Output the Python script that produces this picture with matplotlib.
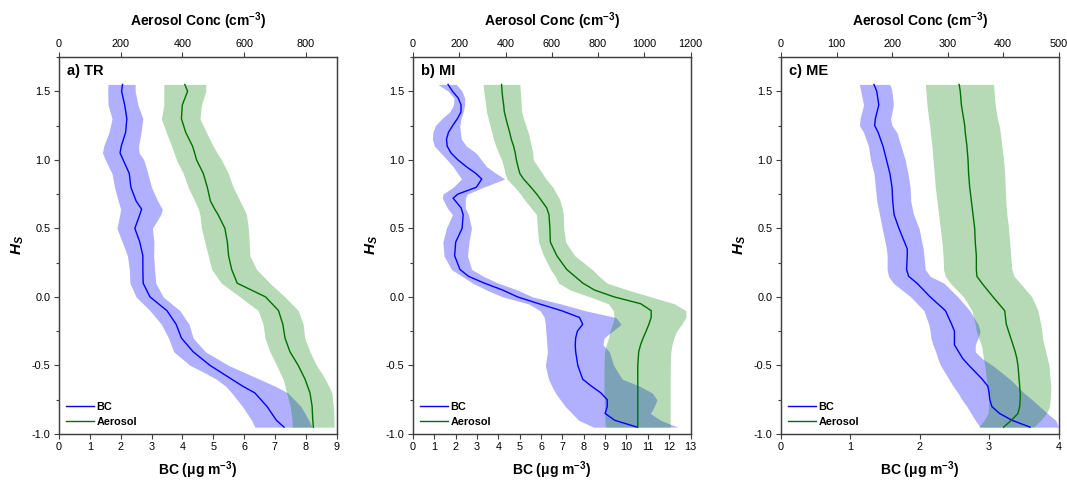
import matplotlib
matplotlib.use("Agg")
import matplotlib.pyplot as plt
from matplotlib.ticker import MultipleLocator, FormatStrFormatter

plt.rcParams['font.family'] = ['Liberation Sans', 'DejaVu Sans']
plt.rcParams['axes.unicode_minus'] = False
plt.rcParams['mathtext.fontset'] = 'custom'
plt.rcParams['mathtext.rm'] = 'Liberation Sans:bold'
plt.rcParams['mathtext.it'] = 'Liberation Sans:bold:italic'
plt.rcParams['mathtext.bf'] = 'Liberation Sans:bold'

# ---------------- Panel a) TR ----------------
y_a = [1.55, 1.5, 1.4, 1.3, 1.2, 1.1, 1.05, 1.0, 0.9, 0.8, 0.7, 0.64, 0.6, 0.5, 0.4, 0.3,
       0.2, 0.1, 0.0, -0.1, -0.2, -0.3, -0.4, -0.5, -0.55, -0.6, -0.65, -0.7, -0.8, -0.9, -0.95]
bc_a = [2.06, 2.03, 2.13, 2.2, 2.16, 2.02, 1.98, 2.08, 2.28, 2.33, 2.5, 2.68, 2.62, 2.46, 2.62, 2.72,
        2.72, 2.73, 2.95, 3.5, 3.8, 3.97, 4.35, 4.9, 5.25, 5.6, 5.95, 6.35, 6.75, 7.05, 7.3]
bc_lo_a = [1.59, 1.58, 1.59, 1.72, 1.62, 1.45, 1.41, 1.5, 1.72, 1.8, 1.92, 2.0, 1.97, 1.88, 2.05, 2.22,
           2.28, 2.3, 2.5, 2.95, 3.32, 3.55, 3.72, 4.25, 4.7, 5.1, 5.4, 5.6, 5.95, 6.25, 6.35]
bc_hi_a = [2.47, 2.47, 2.56, 2.72, 2.66, 2.58, 2.6, 2.75, 2.88, 3.0, 3.2, 3.35, 3.3, 3.03, 3.08, 3.07,
           3.1, 3.14, 3.38, 3.92, 4.22, 4.35, 4.75, 5.5, 6.0, 6.5, 7.0, 7.42, 7.85, 8.1, 8.21]
aer_a = [408, 417, 400, 397, 411, 433, 440, 446, 468, 481, 491, 505, 516, 538, 546, 550,
         560, 578, 670, 712, 726, 733, 749, 776, 787, 798, 806, 814, 821, 823, 825]
aer_lo_a = [340, 340, 340, 332, 348, 365, 373, 381, 403, 419, 440, 452, 457, 462, 473, 484,
            495, 527, 587, 646, 662, 668, 684, 706, 716, 727, 733, 738, 750, 756, 756]
aer_hi_a = [476, 476, 462, 457, 478, 500, 513, 527, 549, 565, 587, 600, 608, 614, 617, 619,
            641, 684, 733, 776, 792, 797, 814, 835, 850, 863, 875, 885, 890, 892, 892]

# ---------------- Panel b) MI ----------------
y_b = [1.55, 1.5, 1.45, 1.4, 1.35, 1.3, 1.25, 1.2, 1.15, 1.1, 1.05, 1.0, 0.95, 0.9, 0.86, 0.8,
       0.75, 0.72, 0.65, 0.6, 0.5, 0.4, 0.3, 0.2, 0.15, 0.1, 0.05, 0.0, -0.05, -0.1, -0.15, -0.2,
       -0.25, -0.3, -0.35, -0.4, -0.5, -0.6, -0.65, -0.7, -0.75, -0.8, -0.85, -0.9, -0.95]
bc_b = [1.64, 1.85, 2.12, 2.25, 2.25, 2.08, 1.86, 1.66, 1.57, 1.6, 1.78, 2.1, 2.5, 2.95, 3.22, 2.97,
        2.1, 1.88, 2.25, 2.35, 2.3, 2.0, 1.95, 2.2, 2.6, 3.35, 4.2, 4.9, 5.9, 6.95, 7.8, 7.95,
        7.7, 7.62, 7.6, 7.62, 7.72, 7.95, 8.35, 8.8, 9.1, 9.1, 9.0, 9.45, 10.5]
bc_lo_b = [1.17, 1.65, 1.92, 1.9, 1.72, 1.35, 1.05, 0.93, 0.91, 1.0, 1.3, 1.6, 1.88, 2.1, 2.27, 1.88,
           1.4, 1.38, 1.6, 1.85, 1.56, 1.4, 1.45, 1.8, 2.3, 2.8, 3.45, 4.2, 5.4, 5.95, 6.15, 6.2,
           6.22, 6.25, 6.27, 6.3, 6.2, 6.35, 6.5, 6.67, 6.9, 7.14, 7.45, 7.76, 8.46]
bc_hi_b = [2.03, 2.3, 2.42, 2.42, 2.35, 2.25, 2.19, 2.22, 2.27, 2.5, 2.95, 3.2, 3.45, 3.9, 4.3, 3.3,
           2.55, 2.45, 2.45, 2.6, 2.74, 2.62, 2.55, 2.75, 3.3, 4.0, 4.9, 5.6, 6.9, 8.05, 9.5, 9.75,
           9.35, 8.95, 8.9, 9.2, 9.4, 9.8, 10.6, 11.2, 11.43, 11.3, 11.12, 11.6, 12.4]
aer_b = [383, 385, 388, 392, 395, 402, 410, 418, 425, 435, 442, 447, 454, 462, 478, 510,
         535, 548, 578, 588, 592, 594, 622, 665, 700, 735, 785, 870, 985, 1030, 1030, 1020,
         1008, 995, 984, 976, 972, 972, 972, 972, 972, 972, 972, 972, 972]
aer_lo_b = [303, 306, 310, 314, 318, 325, 333, 341, 348, 358, 370, 383, 392, 398, 406, 440,
            465, 477, 510, 534, 538, 543, 565, 595, 615, 630, 680, 765, 845, 866, 870, 862,
            852, 845, 835, 828, 826, 826, 826, 826, 827, 828, 829, 830, 832]
aer_hi_b = [462, 464, 466, 468, 470, 478, 488, 498, 505, 512, 518, 520, 540, 560, 575, 605,
            621, 632, 645, 650, 652, 660, 700, 775, 805, 840, 930, 1030, 1130, 1180, 1180, 1162,
            1140, 1128, 1120, 1115, 1113, 1112, 1112, 1112, 1112, 1112, 1112, 1112, 1113]

# ---------------- Panel c) ME ----------------
y_c = [1.55, 1.5, 1.4, 1.3, 1.25, 1.2, 1.1, 1.0, 0.9, 0.8, 0.7, 0.6, 0.5, 0.4, 0.35, 0.3, 0.2,
       0.15, 0.1, 0.0, -0.1, -0.2, -0.25, -0.3, -0.35, -0.4, -0.45, -0.5, -0.6, -0.65, -0.7,
       -0.75, -0.8, -0.85, -0.9, -0.95]
bc_c = [1.34, 1.38, 1.41, 1.36, 1.35, 1.4, 1.47, 1.52, 1.57, 1.6, 1.61, 1.63, 1.7, 1.78, 1.82, 1.82,
        1.81, 1.84, 1.96, 2.15, 2.37, 2.46, 2.5, 2.5, 2.5, 2.56, 2.62, 2.71, 2.9, 2.98, 3.0,
        3.01, 3.04, 3.15, 3.33, 3.59]
bc_lo_c = [1.13, 1.15, 1.19, 1.14, 1.13, 1.19, 1.26, 1.29, 1.34, 1.36, 1.38, 1.42, 1.46, 1.5, 1.52,
           1.53, 1.53, 1.55, 1.62, 1.87, 2.06, 2.13, 2.15, 2.16, 2.19, 2.23, 2.26, 2.3, 2.42, 2.48,
           2.55, 2.61, 2.68, 2.74, 2.8, 2.87]
bc_hi_c = [1.57, 1.6, 1.62, 1.58, 1.6, 1.67, 1.73, 1.79, 1.83, 1.86, 1.87, 1.91, 1.99, 2.03, 2.05,
           2.06, 2.08, 2.15, 2.35, 2.55, 2.72, 2.84, 2.87, 2.84, 2.8, 2.8, 2.9, 3.05, 3.3, 3.4,
           3.5, 3.62, 3.73, 3.84, 3.96, 4.0]
aer_c = [321, 323, 325, 329, 331, 332, 335, 337, 338, 340, 343, 346, 349, 350, 351, 352, 352,
         353, 362, 382, 403, 406, 410, 414, 418, 422, 425, 427, 429, 430, 431, 431, 430, 427,
         415, 401]
aer_lo_c = [260, 261, 263, 266, 268, 269, 272, 274, 276, 278, 281, 284, 287, 290, 291, 292, 293,
            296, 305, 329, 344, 350, 352, 356, 361, 363, 365, 367, 370, 372, 373, 374, 374, 373,
            366, 356]
aer_hi_c = [383, 384, 386, 390, 393, 395, 398, 401, 403, 404, 405, 407, 410, 412, 413, 414, 416,
            420, 431, 452, 463, 468, 470, 471, 474, 477, 480, 483, 485, 486, 486, 485, 484, 478,
            468, 455]

panel_labels = ['a) TR', 'b) MI', 'c) ME']
bc_xmax = [9, 13, 4]
aer_xmax = [900, 1200, 500]
aer_step = [200, 200, 100]

panels = [
    (y_a, bc_a, bc_lo_a, bc_hi_a, aer_a, aer_lo_a, aer_hi_a),
    (y_b, bc_b, bc_lo_b, bc_hi_b, aer_b, aer_lo_b, aer_hi_b),
    (y_c, bc_c, bc_lo_c, bc_hi_c, aer_c, aer_lo_c, aer_hi_c),
]

BLUE = '#0000ff'
GREEN_FILL = '#008000'
GREEN_LINE = '#007000'
SPINE = '#404040'

fig = plt.figure(figsize=(10.67, 4.83), dpi=100)
lefts = [59 / 1067, 413 / 1067, 781 / 1067]
width = 277.5 / 1067
bottom = 49 / 483
height = 377 / 483

for i, (yv, bc, bclo, bchi, aer, aerlo, aerhi) in enumerate(panels):
    ax = fig.add_axes([lefts[i], bottom, width, height])
    ax2 = ax.twiny()
    ax.set_xlim(0, bc_xmax[i])
    ax2.set_xlim(0, aer_xmax[i])
    ax.set_ylim(-1.0, 1.75)

    ax.fill_betweenx(yv, bclo, bchi, color=BLUE, alpha=0.31, lw=0, zorder=1)
    ax.fill_betweenx(yv, aerlo, aerhi, color=GREEN_FILL, alpha=0.29, lw=0, zorder=2,
                     transform=ax2.transData)
    ax.plot(bc, yv, color=BLUE, lw=1.0, zorder=3, label='BC')
    ax.plot(aer, yv, color=GREEN_LINE, lw=1.0, zorder=3, label='Aerosol',
            transform=ax2.transData)

    ax.xaxis.set_major_locator(MultipleLocator(1))
    ax2.xaxis.set_major_locator(MultipleLocator(aer_step[i]))
    ax.yaxis.set_major_locator(MultipleLocator(0.5))
    ax.yaxis.set_minor_locator(MultipleLocator(0.25))
    ax.yaxis.set_major_formatter(FormatStrFormatter('%.1f'))

    for a in (ax, ax2):
        for s in a.spines.values():
            s.set_color(SPINE)
            s.set_linewidth(0.9)
    ax.tick_params(axis='both', which='major', direction='out', length=3.6, width=0.8,
                   color=SPINE, labelsize=7.8, pad=2.5, right=False, top=False)
    ax.tick_params(axis='y', which='minor', direction='out', length=2.2, width=0.8,
                   color=SPINE, right=False)
    ax2.tick_params(axis='x', which='major', direction='out', length=3.6, width=0.8,
                    color=SPINE, labelsize=7.8, pad=2.5)

    ax.set_xlabel('BC (\u03bcg m$^{-3}$)', fontsize=10, fontweight='bold', labelpad=5)
    ax2.set_xlabel(r'Aerosol Conc (cm$^{-3}$)', fontsize=10, fontweight='bold', labelpad=9)
    ax.set_ylabel(r'$H_S$', fontsize=11, labelpad=4)

    ax.text(0.03, 0.962, panel_labels[i], transform=ax.transAxes, fontsize=10.5,
            fontweight='bold', va='center', ha='left')

    leg = ax.legend(loc='lower left', frameon=False, handlelength=2.6, handletextpad=0.2,
                    labelspacing=0.45, borderaxespad=0.25, prop={'size': 7.8, 'weight': 'bold'})

fig.savefig('out.png', dpi=100)
